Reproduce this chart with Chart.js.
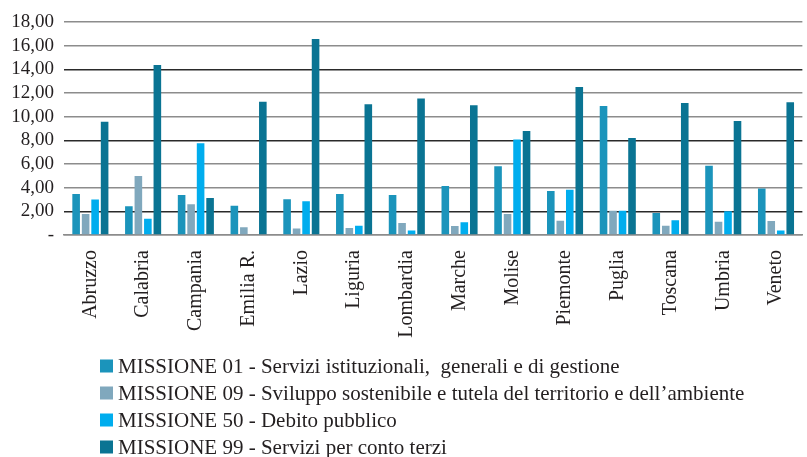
<!DOCTYPE html>
<html>
<head>
<meta charset="utf-8">
<script src="https://cdn.jsdelivr.net/npm/chart.js@4"></script>
<style>
  body { margin: 0; background: #fff; }
  canvas { display: block; }
</style>
</head>
<body>
<canvas id="myChart" width="807" height="457"></canvas>
<script>
const regions = ['Abruzzo', 'Calabria', 'Campania', 'Emilia R.', 'Lazio', 'Liguria', 'Lombardia',
    'Marche', 'Molise', 'Piemonte', 'Puglia', 'Toscana', 'Umbria', 'Veneto']

const missione01 = [3.47, 2.42, 3.38, 2.48, 3.02, 3.47, 3.38, 4.14, 5.80, 3.72, 10.90, 1.86, 5.86, 3.92]
const missione09 = [1.78, 4.99, 2.59, 0.65, 0.54, 0.59, 1.01, 0.76, 1.78, 1.21, 2.05, 0.79, 1.13, 1.18]
const missione50 = [3.00, 1.38, 7.75, 0, 2.85, 0.79, 0.39, 1.07, 8.06, 3.83, 2.05, 1.24, 2.00, 0.39]
const missione99 = [9.58, 14.37, 3.13, 11.27, 16.57, 11.05, 11.53, 10.96, 8.79, 12.51, 8.20, 11.16, 9.64, 11.21]

const seriesLabels = [
    'MISSIONE 01 - Servizi istituzionali,  generali e di gestione',
    'MISSIONE 09 - Sviluppo sostenibile e tutela del territorio e dell\u2019ambiente',
    'MISSIONE 50 - Debito pubblico',
    'MISSIONE 99 - Servizi per conto terzi'
]
const seriesColors = ['#1b94bb', '#80a8bd', '#00adee', '#0a7493']

const yTicks = [0, 2, 4, 6, 8, 10, 12, 14, 16, 18]

const textColor = '#231f20'
const serif = 'Liberation Serif'

// legend drawn as a vertical list under the axis labels
const listLegend = {
    id: 'listLegend',
    afterDraw(chart) {
        const ctx = chart.ctx
        ctx.save()
        ctx.font = '21px "' + serif + '"'
        ctx.textBaseline = 'middle'
        chart.data.datasets.forEach((ds, i) => {
            const y = 366 + i * 27
            ctx.fillStyle = ds.backgroundColor
            ctx.fillRect(100, y - 6.5, 13, 13)
            ctx.fillStyle = textColor
            ctx.fillText(ds.label, 118, y + 1)
        })
        ctx.restore()
    }
}

const datasets = [missione01, missione09, missione50, missione99].map((values, i) => ({
    label: seriesLabels[i],
    data: values,
    backgroundColor: seriesColors[i],
    borderWidth: 0,
    categoryPercentage: 0.72,
    barPercentage: 0.8
}))

var ctx = document.getElementById('myChart').getContext('2d');
var myChart = new Chart(ctx, {
    type: 'bar',
    data: {
        labels: regions,
        datasets: datasets
    },
    plugins: [listLegend],
    options: {
        responsive: false,
        animation: false,
        layout: { padding: { top: 22, right: 0, bottom: 0, left: 0 } },
        plugins: {
            legend: { display: false },
            tooltip: { enabled: false }
        },
        scales: {
            x: {
                grid: { display: false },
                border: { color: '#8c8c8c', width: 1.5 },
                ticks: {
                    minRotation: 90,
                    maxRotation: 90,
                    padding: 7,
                    color: textColor,
                    font: { family: serif, size: 20 }
                },
                afterFit(scale) { scale.height = 222 }
            },
            y: {
                min: 0,
                max: 18,
                afterBuildTicks(scale) {
                    scale.ticks = yTicks.map(v => ({ value: v }))
                },
                ticks: {
                    autoSkip: false,
                    padding: 10,
                    color: textColor,
                    font: { family: serif, size: 19 },
                    callback: v => v === 0 ? '-' : v.toFixed(2).replace('.', ',')
                },
                grid: {
                    drawTicks: false,
                    lineWidth: 1.5,
                    color: c => [2, 8, 14].includes(c.tick && c.tick.value) ? '#2a2a2a' : '#8c8c8c'
                },
                border: { display: false },
                afterFit(scale) { scale.width = 64 }
            }
        }
    }
});
</script>
</body>
</html>
